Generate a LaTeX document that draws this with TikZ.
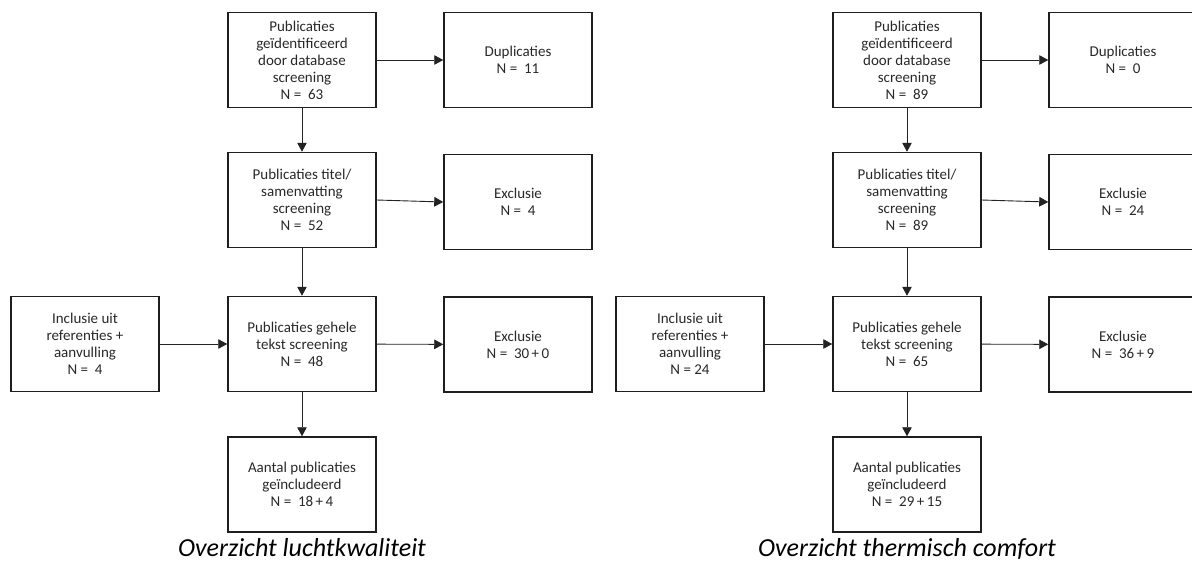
\documentclass[tikz,border=0pt]{standalone}
\usepackage{fontspec}
\setmainfont{Carlito}
\usetikzlibrary{arrows.meta}
\definecolor{boxline}{RGB}{30,30,30}
\definecolor{boxtext}{RGB}{40,40,40}
\definecolor{arrowline}{RGB}{35,35,35}
\tikzset{
  flowbox/.style={draw=boxline, line width=1.5pt, minimum width=148pt, minimum height=95pt,
    inner sep=0pt, align=center, text=boxtext, font=\fontsize{15}{17}\selectfont},
  flowarrow/.style={draw=arrowline, line width=0.9pt, -{Triangle[length=9pt,width=9.5pt]}},
  captiontext/.style={anchor=base, font=\fontsize{26}{30}\selectfont\itshape, text=black}
}
\begin{document}
\begin{tikzpicture}[x=1pt,y=-1pt]
\useasboundingbox (0,0) rectangle (1192,563);
\clip (0,0) rectangle (1192,563);
% ---------- left: luchtkwaliteit ----------
\node[flowbox] (lA) at (302,60) {Publicaties\\geïdentificeerd\\door database\\screening\\N =\ \ 63};
\node[flowbox] (lDup) at (518,60) {Duplicaties\\N =\ \ 11};
\node[flowbox] (lB) at (302,200) {Publicaties titel/\\samenvatting\\screening\\N =\ \ 52};
\node[flowbox] (lEx1) at (518,202) {Exclusie\\N =\ \ 4};
\node[flowbox] (lC) at (302,344) {Publicaties gehele\\tekst screening\\N =\ \ 48};
\node[flowbox] (lInc) at (85,344) {Inclusie uit\\referenties +\\aanvulling\\N =\ \ 4};
\node[flowbox] (lEx2) at (518,344.5) {Exclusie\\N =\ \ 30\,+\,0};
\node[flowbox] (lD) at (302,484.5) {Aantal publicaties\\geïncludeerd\\N =\ \ 18\,+\,4};
\node[captiontext] (lCap) at (302,556) {Overzicht luchtkwaliteit};
\draw[flowarrow] (lA) -- (lB);
\draw[flowarrow] (lA) -- (lDup);
\draw[flowarrow] (lB.east) -- (lEx1.west);
\draw[flowarrow] (lB) -- (lC);
\draw[flowarrow] (lInc) -- (lC);
\draw[flowarrow] (lC) -- (lEx2);
\draw[flowarrow] (lC) -- (lD);
% ---------- right: thermisch comfort ----------
\node[flowbox] (rA) at (907,60) {Publicaties\\geïdentificeerd\\door database\\screening\\N =\ \ 89};
\node[flowbox] (rDup) at (1123,60) {Duplicaties\\N =\ \ 0};
\node[flowbox] (rB) at (907,200) {Publicaties titel/\\samenvatting\\screening\\N =\ \ 89};
\node[flowbox] (rEx1) at (1123,202) {Exclusie\\N =\ \ 24};
\node[flowbox] (rC) at (907,344) {Publicaties gehele\\tekst screening\\N =\ \ 65};
\node[flowbox] (rInc) at (690,344) {Inclusie uit\\referenties +\\aanvulling\\N = 24};
\node[flowbox] (rEx2) at (1123,344.5) {Exclusie\\N =\ \ 36\,+\,9};
\node[flowbox] (rD) at (907,484.5) {Aantal publicaties\\geïncludeerd\\N =\ \ 29\,+\,15};
\node[captiontext] (rCap) at (907,556) {Overzicht thermisch comfort};
\draw[flowarrow] (rA) -- (rB);
\draw[flowarrow] (rA) -- (rDup);
\draw[flowarrow] (rB.east) -- (rEx1.west);
\draw[flowarrow] (rB) -- (rC);
\draw[flowarrow] (rInc) -- (rC);
\draw[flowarrow] (rC) -- (rEx2);
\draw[flowarrow] (rC) -- (rD);
\end{tikzpicture}
\end{document}
